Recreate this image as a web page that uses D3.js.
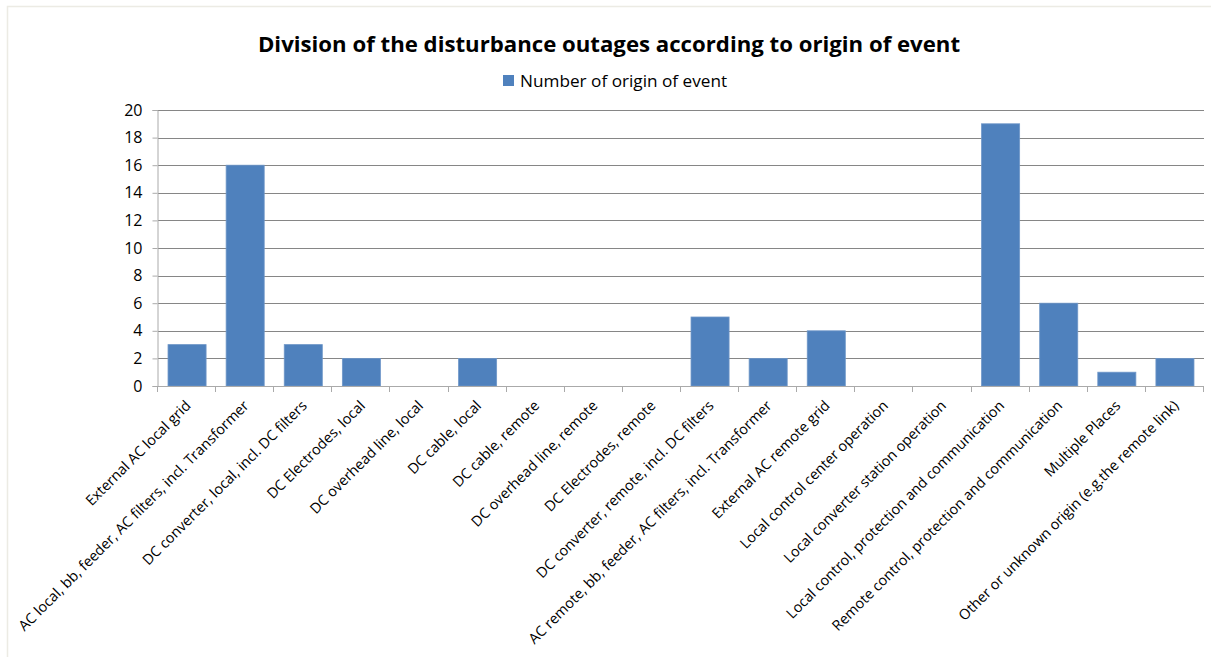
<!DOCTYPE html>
<html>
<head>
<meta charset="utf-8">
<script src="https://cdn.jsdelivr.net/npm/d3@7"></script>
<style>
  html, body { margin: 0; padding: 0; background: #fff; }
  svg { display: block; }
  text { font-family: "Open Sans", "Noto Sans", sans-serif; fill: #000; }
</style>
</head>
<body>
<svg id="chart" width="1211" height="657"></svg>
<script>
// Origin-of-event categories and outage counts
const categories = [
  "External AC local grid",
  "AC local, bb, feeder, AC filters, incl. Transformer",
  "DC converter, local, incl. DC filters",
  "DC Electrodes, local",
  "DC overhead line, local",
  "DC cable, local",
  "DC cable, remote",
  "DC overhead line, remote",
  "DC Electrodes, remote",
  "DC converter, remote, incl. DC filters",
  "AC remote, bb, feeder, AC filters, incl. Transformer",
  "External AC remote grid",
  "Local control center operation",
  "Local converter station operation",
  "Local control, protection and communication",
  "Remote control, protection and communication",
  "Multiple Places",
  "Other or unknown origin (e.g.the remote link)"
];
const counts = [3, 16, 3, 2, 0, 2, 0, 0, 0, 5, 2, 4, 0, 0, 19, 6, 1, 2];
const yTicks = [0, 2, 4, 6, 8, 10, 12, 14, 16, 18, 20];
const seriesName = "Number of origin of event";
const titleText = "Division of the disturbance outages according to origin of event";

const svg = d3.select("#chart");
const W = 1211, H = 657;
const plot = { left: 158, right: 1204, top: 110, bottom: 386 };

// faint outer frame
svg.append("rect")
  .attr("x", 7.5).attr("y", 6.5)
  .attr("width", W + 10).attr("height", H + 10)
  .attr("fill", "none").attr("stroke", "#ecebe4").attr("stroke-width", 1.5);

const x = d3.scaleBand()
  .domain(categories)
  .range([plot.left, plot.right])
  .paddingInner(0.345)
  .paddingOuter(0.1725);

const y = d3.scaleLinear().domain([0, 20]).range([plot.bottom, plot.top]);

// horizontal gridlines
svg.append("g").selectAll("line")
  .data(yTicks.filter(d => d > 0))
  .join("line")
  .attr("x1", plot.left).attr("x2", plot.right)
  .attr("y1", d => Math.round(y(d)) + 0.5).attr("y2", d => Math.round(y(d)) + 0.5)
  .attr("stroke", "#868686").attr("stroke-width", 1);

// y axis
const yAxis = svg.append("g")
  .attr("transform", `translate(${plot.left - 0.5},0)`)
  .call(d3.axisLeft(y).tickValues(yTicks).tickSize(5).tickPadding(10).tickFormat(d3.format("d")));
yAxis.select(".domain").attr("stroke", "#aaa");
yAxis.selectAll(".tick line").attr("stroke", "#aaa");
yAxis.selectAll(".tick text").attr("font-size", 16).attr("fill", "#000")
  .attr("font-family", "'Open Sans', sans-serif");

// bars
svg.append("g").selectAll("rect")
  .data(categories.map((c, i) => ({ c, v: counts[i] })).filter(d => d.v > 0))
  .join("rect")
  .attr("x", d => x(d.c))
  .attr("y", d => y(d.v))
  .attr("width", x.bandwidth())
  .attr("height", d => y(0) - y(d.v))
  .attr("fill", "#4f81bd")
  .attr("stroke", "#6f97c8").attr("stroke-width", 0.8);

// x axis line with boundary ticks
const step = x.step();
const boundaries = d3.range(categories.length + 1).map(i => plot.left + i * step);
const xg = svg.append("g");
xg.append("line")
  .attr("x1", plot.left - 0.5).attr("x2", plot.right)
  .attr("y1", plot.bottom + 0.5).attr("y2", plot.bottom + 0.5)
  .attr("stroke", "#aaa");
xg.selectAll("line.tk").data(boundaries).join("line").attr("class", "tk")
  .attr("x1", d => Math.round(d) - 0.5).attr("x2", d => Math.round(d) - 0.5)
  .attr("y1", plot.bottom).attr("y2", plot.bottom + 6)
  .attr("stroke", "#aaa");

// rotated category labels
xg.selectAll("text").data(categories).join("text")
  .attr("transform", d => `translate(${x(d) + x.bandwidth() / 2 + 1},${plot.bottom + 17}) rotate(-45)`)
  .attr("text-anchor", "end")
  .attr("dy", "0.35em")
  .attr("font-size", 14.4)
  .text(d => d);

// title
svg.append("text")
  .attr("x", 609).attr("y", 52)
  .attr("text-anchor", "middle")
  .attr("font-size", 22.2).attr("font-weight", "bold")
  .text(titleText);

// legend
const lg = svg.append("g").attr("transform", "translate(503,75)");
lg.append("rect").attr("width", 11).attr("height", 11).attr("fill", "#4f81bd");
lg.append("text").attr("x", 17).attr("y", 12).attr("font-size", 17.2).text(seriesName);
</script>
</body>
</html>
